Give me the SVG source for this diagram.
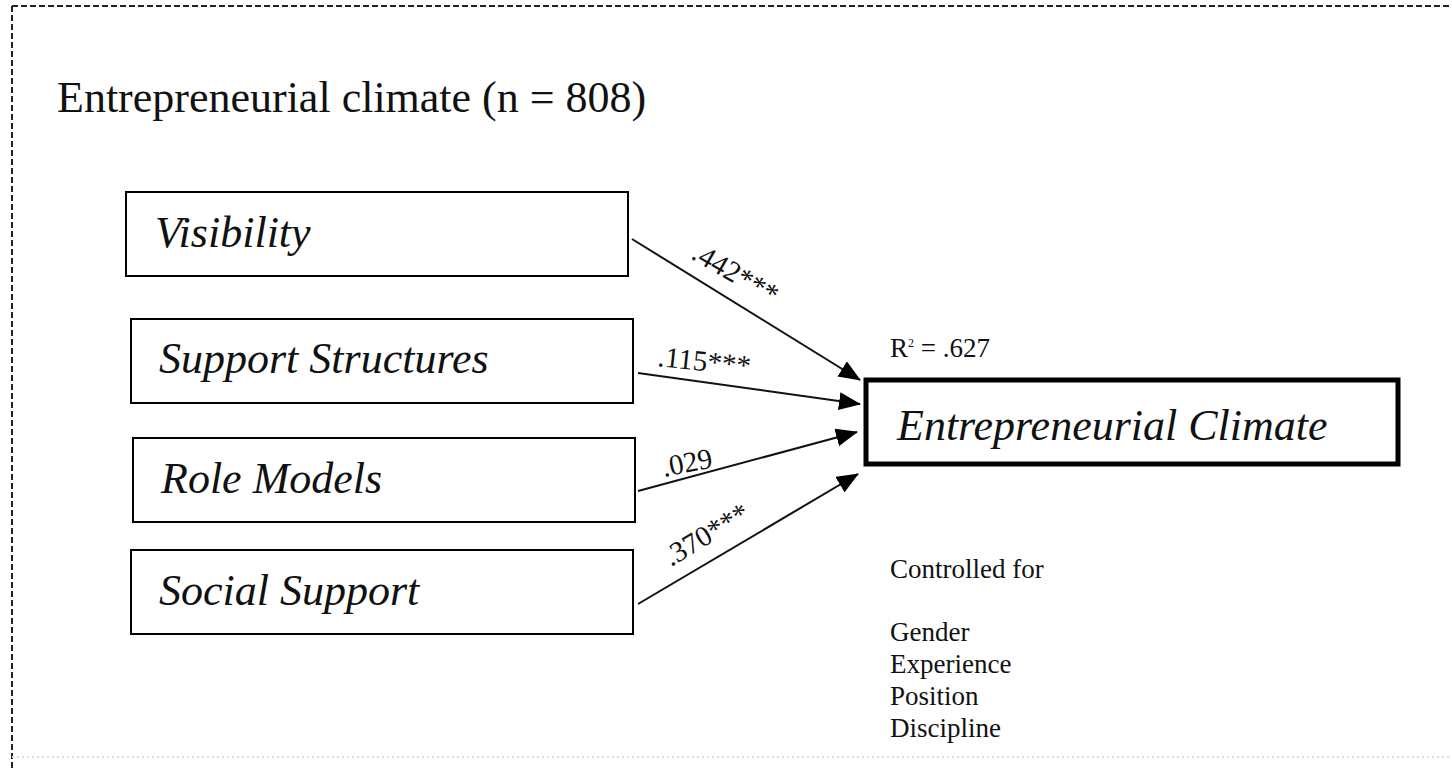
<svg xmlns="http://www.w3.org/2000/svg" width="1452" height="770" viewBox="0 0 1452 770">
<style>
.box{fill:#fff;stroke:#000;stroke-width:2}
.main{fill:#fff;stroke:#000;stroke-width:5}
.lbl{font-family:"Liberation Serif",serif;font-style:italic;font-size:44px;fill:#111}
.coef{font-family:"Liberation Serif",serif;font-size:29px;fill:#111}
.note{font-family:"Liberation Serif",serif;font-size:27px;fill:#111}
.edge{stroke:#111;stroke-width:2;fill:none;marker-end:url(#ah)}
</style>
<defs>
<marker id="ah" markerWidth="22" markerHeight="18" refX="21" refY="9" orient="auto" markerUnits="userSpaceOnUse" viewBox="0 0 22 18">
<path d="M0,0 L22,9 L0,18 Z" fill="#000"/>
</marker>
</defs>
<rect width="1452" height="770" fill="#fff"/>
<g id="frame">
<path d="M12,6 H1452 M12,6 V770" stroke="#222" stroke-width="2" stroke-dasharray="6,3" fill="none"/>
<path d="M12,757 H1452" stroke="#ddd" stroke-width="2" stroke-dasharray="2,3" fill="none"/>
</g>
<text x="57" y="112" font-family="Liberation Serif,serif" font-size="44" fill="#111">Entrepreneurial climate (n = 808)</text>
<g id="connectors">
<line class="edge" x1="632" y1="239" x2="860" y2="380"/>
<line class="edge" x1="638" y1="373" x2="860" y2="404"/>
<line class="edge" x1="638" y1="491" x2="857" y2="432"/>
<line class="edge" x1="638" y1="604" x2="858" y2="474"/>
<text class="coef" transform="translate(690,258) rotate(30)">.442***</text>
<text class="coef" transform="translate(657,366) rotate(6)">.115***</text>
<text class="coef" transform="translate(664,477) rotate(-11)">.029</text>
<text class="coef" transform="translate(671,567) rotate(-31)">.370***</text>
</g>
<g id="n-visibility"><rect class="box" x="126" y="192" width="502" height="84"/><text class="lbl" x="155" y="247">Visibility</text></g>
<g id="n-support"><rect class="box" x="131" y="319" width="502" height="84"/><text class="lbl" x="159" y="373">Support Structures</text></g>
<g id="n-role"><rect class="box" x="133" y="438" width="502" height="84"/><text class="lbl" x="161" y="493">Role Models</text></g>
<g id="n-social"><rect class="box" x="131" y="550" width="502" height="84"/><text class="lbl" x="159" y="605">Social Support</text></g>
<g id="n-climate"><rect class="main" x="866" y="380" width="532" height="84"/><text class="lbl" x="897" y="440">Entrepreneurial Climate</text></g>
<g id="notes">
<text class="note" x="890" y="357">R<tspan font-size="12" dy="-10">2</tspan><tspan dy="10"> = .627</tspan></text>
<text class="note" x="890" y="578">Controlled for</text>
<text class="note" x="890" y="641">Gender</text>
<text class="note" x="890" y="673">Experience</text>
<text class="note" x="890" y="705">Position</text>
<text class="note" x="890" y="737">Discipline</text>
</g>
</svg>
